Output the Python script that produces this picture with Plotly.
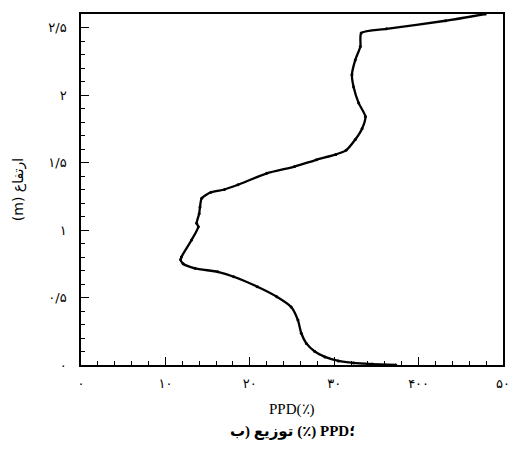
import plotly.graph_objects as go

# PPD (%) profile against height (m)
height_m = [0.0, 0.007, 0.015, 0.03, 0.06, 0.10, 0.16, 0.235, 0.333, 0.43,
            0.506, 0.58, 0.654, 0.69, 0.716, 0.75, 0.78, 0.80, 0.926, 1.025,
            1.05, 1.12, 1.17, 1.235, 1.28, 1.30, 1.335, 1.42, 1.47, 1.52,
            1.56, 1.59, 1.67, 1.75, 1.84, 1.94, 2.06, 2.15, 2.26, 2.36,
            2.46, 2.49, 2.55, 2.6]
ppd_pct = [37.3, 34.5, 32.3, 30.5, 28.9, 27.7, 26.7, 26.1, 25.7, 24.9,
           23.2, 20.9, 18.1, 16.2, 13.5, 12.1, 11.8, 11.9, 13.1, 13.9,
           13.7, 14.0, 14.1, 14.3, 15.4, 17.0, 18.6, 22.0, 25.3, 27.9,
           30.2, 31.4, 32.5, 33.3, 33.7, 32.9, 32.3, 32.1, 32.5, 33.1,
           33.2, 36.2, 43.2, 47.9]

x_tick_vals = [0, 10, 20, 30, 40, 50]
x_tick_text = ["۰", "۱۰", "۲۰", "۳۰", "۴۰۰", "۵۰"]
y_tick_vals = [0, 0.5, 1, 1.5, 2, 2.5]
y_tick_text = ["۰", "۰/۵", "۱", "۱/۵", "۲", "۲/۵"]

# left-to-right marks keep the caption pieces in the printed order
LRM = "\u200e"
y_title = "(m) ارتفاع"
x_title = "PPD(٪)"
caption = LRM + "ب" + LRM + ")" + LRM + " توزیع" + LRM + " (٪) PPD؛"

fig = go.Figure()
fig.add_trace(go.Scatter(
    x=ppd_pct, y=height_m, mode="lines+markers",
    line=dict(color="black", width=2.3, shape="spline", smoothing=0.6),
    marker=dict(color="black", size=3),
    showlegend=False, cliponaxis=False,
))

axis_common = dict(
    showline=True, linecolor="black", linewidth=1.5, mirror=True,
    ticks="inside", tickcolor="black", tickwidth=1.2, ticklen=8,
    showgrid=False, zeroline=False,
    tickfont=dict(family="DejaVu Sans", size=13, color="black"),
)

fig.update_xaxes(
    range=[0, 50], tickvals=x_tick_vals, ticktext=x_tick_text,
    ticklabelstandoff=6,
    minor=dict(dtick=2, ticks="inside", ticklen=4, tickcolor="black", tickwidth=1),
    **axis_common,
)
fig.update_yaxes(
    range=[0, 2.6], tickvals=y_tick_vals, ticktext=y_tick_text,
    ticklabelstandoff=10,
    minor=dict(dtick=0.1, ticks="inside", ticklen=4, tickcolor="black", tickwidth=1),
    title=dict(text=y_title, font=dict(family="DejaVu Sans", size=14, color="black"),
               standoff=21),
    **axis_common,
)

fig.add_annotation(
    text=x_title, xref="paper", yref="paper", x=0.5, y=-0.128,
    xanchor="center", yanchor="middle", showarrow=False,
    font=dict(family="Liberation Serif", size=15, color="black"),
)
fig.add_annotation(
    text="<b>" + caption + "</b>", xref="paper", yref="paper", x=0.5, y=-0.19,
    xanchor="center", yanchor="middle", showarrow=False,
    font=dict(family="Liberation Serif, DejaVu Sans", size=15, color="black"),
)

fig.update_layout(
    width=520, height=450,
    margin=dict(l=81, r=10, t=14, b=85),
    paper_bgcolor="white", plot_bgcolor="white",
)

fig.write_html("out.html")
